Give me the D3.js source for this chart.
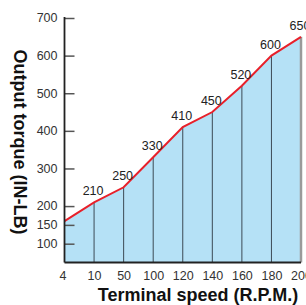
<!DOCTYPE html>
<html>
<head>
<meta charset="utf-8">
<script src="https://cdn.jsdelivr.net/npm/d3@7"></script>
<style>
  body { margin: 0; background: #fff; }
  svg text { font-family: "Liberation Sans", Arial, sans-serif; }
</style>
</head>
<body>
<svg class="chart" width="306" height="305"></svg>
<script>
var speeds = ['4', '10', '50', '100', '120', '140', '160', '180', '200'];
var torque = [160, 210, 250, 330, 410, 450, 520, 600, 650];
var yTicks = [100, 150, 200, 300, 400, 500, 600, 700];

var svg = d3.select('svg.chart');

var x = d3.scalePoint()
    .domain(speeds)
    .range([64.5, 301]);

var y = d3.scaleLinear()
    .domain([50, 700])
    .range([262.5, 18]);

var data = speeds.map(function (s, i) {
    return { speed: s, value: torque[i] };
});

// filled area under the curve
var area = d3.area()
    .x(function (d) { return x(d.speed); })
    .y0(y(50))
    .y1(function (d) { return y(d.value); });

svg.append('path')
    .datum(data)
    .attr('d', area)
    .attr('fill', '#b5e1f6');

// vertical lines down to baseline
svg.selectAll('.drop')
    .data(data.slice(1))
    .enter()
    .append('line')
    .attr('class', 'drop')
    .attr('x1', function (d) { return x(d.speed); })
    .attr('x2', function (d) { return x(d.speed); })
    .attr('y1', function (d) { return y(d.value); })
    .attr('y2', y(50))
    .attr('stroke', function (d, i) { return i == data.length - 2 ? '#9a9a9a' : '#3c4a55'; })
    .attr('stroke-width', function (d, i) { return i == data.length - 2 ? 2.5 : 1; });

// red line
var line = d3.line()
    .x(function (d) { return x(d.speed); })
    .y(function (d) { return y(d.value); });

svg.append('path')
    .datum(data)
    .attr('d', line)
    .attr('fill', 'none')
    .attr('stroke', '#e8202a')
    .attr('stroke-width', 2);

// value labels
svg.selectAll('.val')
    .data(data.slice(1))
    .enter()
    .append('text')
    .attr('class', 'val')
    .attr('x', function (d) { return x(d.speed) - 1; })
    .attr('y', function (d) { return y(d.value) - 7; })
    .attr('text-anchor', 'middle')
    .attr('font-size', 12.5)
    .attr('fill', '#222')
    .text(function (d) { return d.value; });

// y axis
var yAxis = d3.axisRight(y)
    .tickValues(yTicks)
    .tickSize(10)
    .tickFormat('');

var gy = svg.append('g')
    .attr('transform', 'translate(64.5,0)')
    .call(yAxis);
gy.select('.domain').remove();
gy.selectAll('.tick line').attr('stroke', '#555').attr('stroke-width', 1.5);
gy.append('line')
    .attr('y1', y(700) - 1)
    .attr('y2', y(50))
    .attr('stroke', '#222')
    .attr('stroke-width', 1.8);

gy.selectAll('.ylab')
    .data(yTicks)
    .enter()
    .append('text')
    .attr('class', 'ylab')
    .attr('x', -7)
    .attr('y', function (d) { return y(d); })
    .attr('dy', '0.35em')
    .attr('text-anchor', 'end')
    .attr('font-size', 12.5)
    .attr('fill', '#333')
    .text(function (d) { return d; });

// x axis
var xAxis = d3.axisBottom(x).tickSize(0).tickPadding(9);
var gx = svg.append('g')
    .attr('transform', 'translate(0,' + y(50) + ')')
    .call(xAxis);
gx.select('.domain').attr('stroke', '#222').attr('stroke-width', 1.8)
    .attr('d', 'M64.5,0H301');
gx.selectAll('.tick text')
    .attr('font-size', 12.5)
    .attr('fill', '#333')
    .attr('font-family', '"Liberation Sans", Arial, sans-serif');
gx.select('.tick text').attr('dx', -2);

// axis titles
svg.append('text')
    .attr('transform', 'translate(20,142) rotate(90)')
    .attr('text-anchor', 'middle')
    .attr('dominant-baseline', 'central')
    .attr('font-size', 18)
    .attr('font-weight', 'bold')
    .attr('fill', '#111')
    .text('Output torque (IN-LB)');

svg.append('text')
    .attr('x', 198)
    .attr('y', 301)
    .attr('text-anchor', 'middle')
    .attr('font-size', 18)
    .attr('font-weight', 'bold')
    .attr('fill', '#111')
    .text('Terminal speed (R.P.M.)');
</script>
</body>
</html>
